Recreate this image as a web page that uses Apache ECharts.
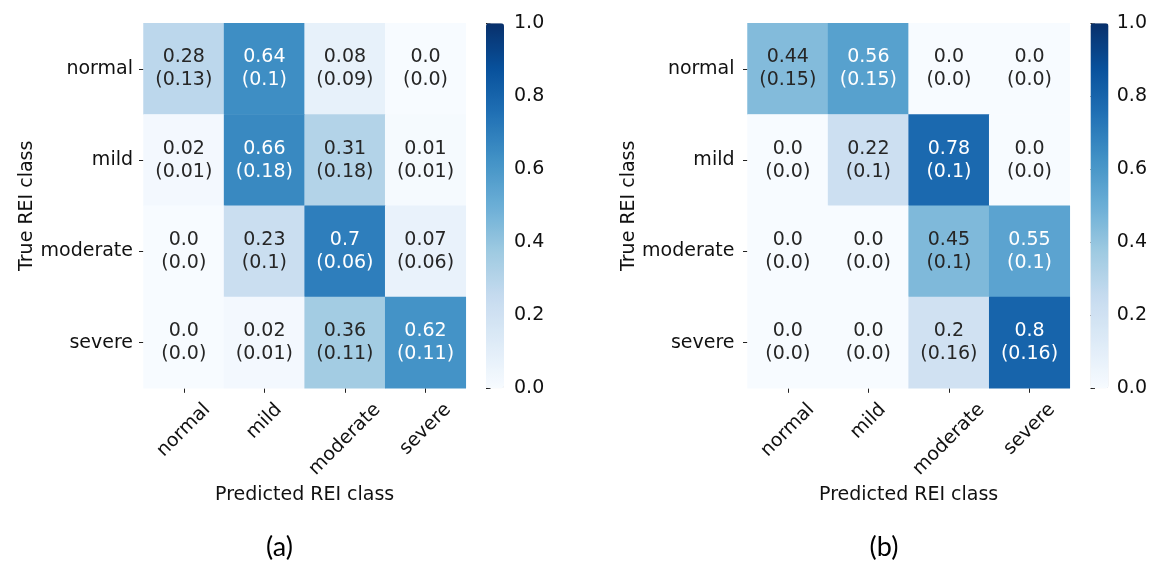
<!DOCTYPE html>
<html>
<head>
<meta charset="utf-8">
<script src="https://cdn.jsdelivr.net/npm/echarts@6/dist/echarts.min.js"></script>
<style>
  html, body { margin: 0; padding: 0; background: #fff; }
  #chart { width: 1150px; height: 562px; }
</style>
</head>
<body>
<div id="chart"></div>
<script>
// ---- data ----
const categories = ['normal', 'mild', 'moderate', 'severe'];
const colorbarTicks = [0.0, 0.2, 0.4, 0.6, 0.8, 1.0];

// panel (a): rows = true class, cols = predicted class
const meanA = [
  [0.28, 0.64, 0.08, 0.0],
  [0.02, 0.66, 0.31, 0.01],
  [0.0, 0.23, 0.7, 0.07],
  [0.0, 0.02, 0.36, 0.62]
];
const sdA = [
  [0.13, 0.1, 0.09, 0.0],
  [0.01, 0.18, 0.18, 0.01],
  [0.0, 0.1, 0.06, 0.06],
  [0.0, 0.01, 0.11, 0.11]
];
// panel (b)
const meanB = [
  [0.44, 0.56, 0.0, 0.0],
  [0.0, 0.22, 0.78, 0.0],
  [0.0, 0.0, 0.45, 0.55],
  [0.0, 0.0, 0.2, 0.8]
];
const sdB = [
  [0.15, 0.15, 0.0, 0.0],
  [0.0, 0.1, 0.1, 0.0],
  [0.0, 0.0, 0.1, 0.1],
  [0.0, 0.0, 0.16, 0.16]
];
const captions = ['(a)', '(b)'];

// ---- styling ----
const FONT = '"DejaVu Sans", sans-serif';
const FS = 19;
const TXT = '#111';
const BLUES = ['#f7fbff', '#deebf7', '#c6dbef', '#9ecae1', '#6baed6', '#4292c6', '#2171b5', '#08519c', '#08306b'];

function fmt(v) {
  const s = String(v);
  return s.indexOf('.') >= 0 ? s : s + '.0';
}
function toData(mean, sd) {
  const out = [];
  for (let i = 0; i < mean.length; i++)
    for (let j = 0; j < mean[i].length; j++)
      out.push([j, i, mean[i][j], sd[i][j]]);
  return out;
}

// rotated x labels centred under ticks (matplotlib rotation=45, ha=center)
const ctx = document.createElement('canvas').getContext('2d');
ctx.font = FS + 'px "DejaVu Sans"';
const xRich = {};
categories.forEach((c, i) => {
  const w = ctx.measureText(c).width;
  const P = w * 0.3536 * 1.4142;
  xRich['c' + i] = { padding: [P, P, 0, 0], fontSize: FS, fontFamily: FONT, color: TXT };
});

const panels = [
  { left: 143.5, cbLeft: 486, ylabMargin: 10.5, mean: meanA, sd: sdA, cap: 279.5 },
  { left: 747.5, cbLeft: 1090.5, ylabMargin: 13, mean: meanB, sd: sdB, cap: 884 }
];
const TOP = 23.3, W = 322.3, H = 365, CBW = 18;

const grid = [], xAxis = [], yAxis = [], series = [], visualMap = [], title = [];
panels.forEach((p, k) => {
  const g = grid.length;
  grid.push({ left: p.left, top: TOP, width: W, height: H, containLabel: false });
  grid.push({ left: p.cbLeft, top: TOP, width: CBW, height: H, containLabel: false });
  xAxis.push({
    type: 'category', gridIndex: g, data: categories,
    axisLine: { show: false },
    axisTick: { show: true, alignWithLabel: true, length: 4.5, lineStyle: { color: '#222', width: 1 } },
    axisLabel: {
      interval: 0, rotate: 45, align: 'center', verticalAlign: 'middle', margin: 18.5,
      formatter: (v, idx) => '{c' + idx + '|' + v + '}', rich: xRich,
      fontSize: FS, fontFamily: FONT, color: TXT
    },
    splitLine: { show: false },
    name: 'Predicted REI class', nameLocation: 'middle', nameGap: 95,
    nameTextStyle: { fontSize: FS, fontFamily: FONT, color: TXT }
  });
  xAxis.push({ type: 'value', gridIndex: g + 1, show: false, min: 0, max: 1 });
  yAxis.push({
    type: 'category', gridIndex: g, data: categories, inverse: true,
    axisLine: { show: false },
    axisTick: { show: true, alignWithLabel: true, length: 4.5, lineStyle: { color: '#222', width: 1 } },
    axisLabel: { interval: 0, margin: p.ylabMargin, fontSize: FS, fontFamily: FONT, color: TXT },
    splitLine: { show: false },
    name: 'True REI class', nameLocation: 'middle', nameGap: 105, nameRotate: 90,
    nameTextStyle: { fontSize: FS, fontFamily: FONT, color: TXT }
  });
  yAxis.push({
    type: 'value', gridIndex: g + 1, position: 'right', min: 0, max: 1, interval: 0.2,
    axisLine: { show: false },
    axisTick: { show: true, length: 4.5, lineStyle: { color: '#222', width: 1 } },
    axisLabel: { margin: 10, fontSize: FS, fontFamily: FONT, color: TXT,
      formatter: v => colorbarTicks.some(t => Math.abs(t - v) < 1e-9) ? v.toFixed(1) : '' },
    splitLine: { show: false }
  });
  series.push({
    type: 'heatmap', xAxisIndex: g, yAxisIndex: g,
    data: toData(p.mean, p.sd),
    itemStyle: { borderWidth: 0 },
    emphasis: { disabled: true },
    label: {
      show: true,
      formatter: q => {
        const key = q.data[2] > 0.5 ? 'w' : 'd';
        return '{' + key + '|' + fmt(q.data[2]) + '}\n{' + key + '|(' + fmt(q.data[3]) + ')}';
      },
      rich: {
        w: { color: '#ffffff', fontSize: FS, lineHeight: 23, fontFamily: FONT, align: 'center' },
        d: { color: '#262626', fontSize: FS, lineHeight: 23, fontFamily: FONT, align: 'center' }
      }
    }
  });
  visualMap.push({
    type: 'continuous', seriesIndex: k, dimension: 2, min: 0, max: 1,
    orient: 'vertical', left: p.cbLeft, top: TOP, itemWidth: CBW, itemHeight: H,
    padding: 0, calculable: false, hoverLink: false, realtime: false,
    inRange: { color: BLUES }, textStyle: { fontSize: FS, color: TXT }
  });
  title.push({
    text: captions[k], left: p.cap - 5, top: 529, textAlign: 'center',
    textStyle: { fontFamily: 'Lato, "Open Sans", sans-serif', fontWeight: 'normal', fontSize: 27, color: '#000' }
  });
});

const chart = echarts.init(document.getElementById('chart'), null, { renderer: 'canvas' });
chart.setOption({
  animation: false,
  backgroundColor: '#ffffff',
  title, grid, xAxis, yAxis, series, visualMap,
  tooltip: { show: false }
});
</script>
</body>
</html>
